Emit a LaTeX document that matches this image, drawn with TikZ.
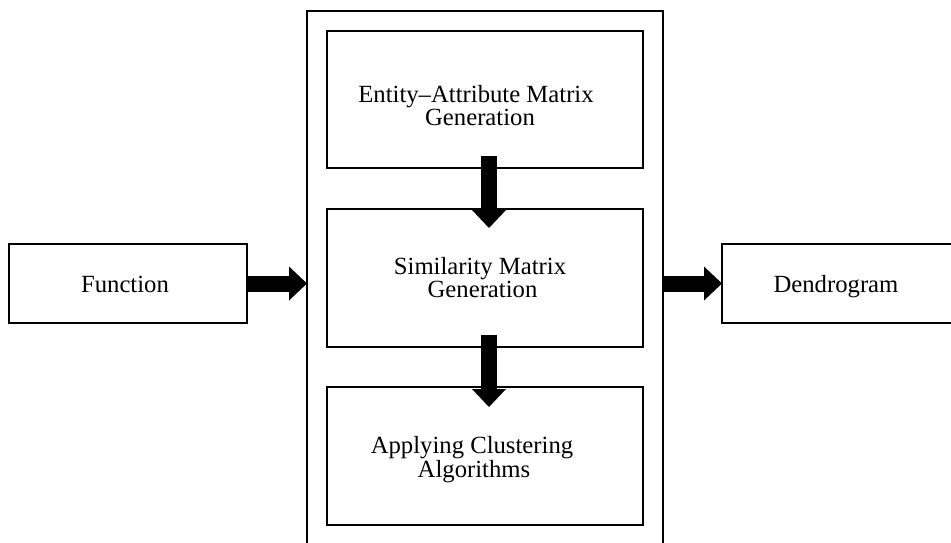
\documentclass[tikz,border=0pt]{standalone}
\usepackage{fontspec}
\setmainfont{Liberation Serif}
\usetikzlibrary{arrows.meta}
\begin{document}
\begin{tikzpicture}[x=1pt,y=-1pt,
  box/.style={draw=black,line width=1.1pt,rectangle,inner sep=0pt,outer sep=0pt},
  txt/.style={anchor=base,inner sep=0pt,align=center,font=\fontsize{24.7}{22.4}\selectfont},
  fat/.style={line width=16pt,line cap=butt,
    -{Triangle[width=34pt,length=18pt,line width=0pt]}}]
\useasboundingbox (0,0) rectangle (951,542);
\clip (0,0) rectangle (951,542);
\fill[white] (0,0) rectangle (951,542);

% outer frame of the processing stage (open below the page edge)
\node[box,minimum width=356pt,minimum height=560pt] (outer) at (485,291) {};

% inner processing steps
\node[box,minimum width=316pt,minimum height=137pt] (b1) at (485,99.5) {};
\node[box,minimum width=316pt,minimum height=138pt] (b2) at (485,278) {};
\node[box,minimum width=316pt,minimum height=138pt] (b3) at (485,456) {};

% input and output
\node[box,minimum width=238pt,minimum height=79pt] (func) at (128,283.5) {};
\node[box,minimum width=240pt,minimum height=79pt] (dend) at (842,283.5) {};

% labels (anchored at the baseline of their last line)
\node[txt] (b1t) at (480,125) {Entity--Attribute Matrix\hspace*{8pt}\\Generation};
\node[txt] (b2t) at (482.5,297) {Similarity Matrix\hspace*{5pt}\\Generation};
\node[txt] (b3t) at (474,477) {Applying Clustering\hspace*{4pt}\\Algorithms};
\node[txt] (funct) at (125,292) {Function};
\node[txt] (dendt) at (836,292) {Dendrogram};

% connection points of the block arrows
\coordinate (v1s) at ([yshift=12pt]b1.south);
\coordinate (v1e) at ([yshift=-19pt]b2.north);
\coordinate (v2s) at ([yshift=12pt]b2.south);
\coordinate (v2e) at ([yshift=-20pt]b3.north);
\coordinate (h1s) at (func.east);
\coordinate (h1e) at (outer.west |- func.east);
\coordinate (h2s) at (outer.east |- dend.west);
\coordinate (h2e) at (dend.west);

% block arrows
\draw[fat] ([xshift=4pt]v1s) -- ([xshift=4pt]v1e);
\draw[fat] ([xshift=4pt]v2s) -- ([xshift=4pt]v2e);
\draw[fat] (h1s) -- (h1e);
\draw[fat] (h2s) -- (h2e);
\end{tikzpicture}
\end{document}
